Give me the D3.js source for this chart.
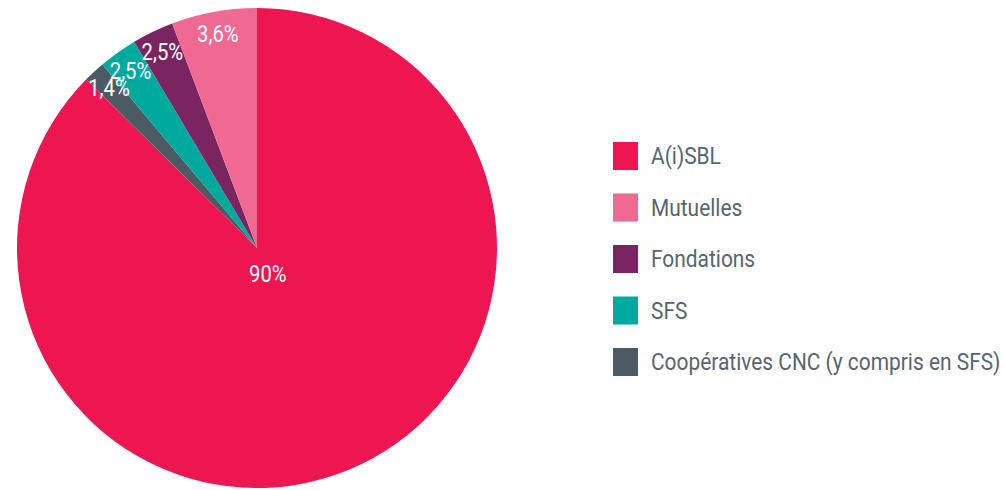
<!DOCTYPE html>
<html>
<head>
<meta charset="utf-8">
<script src="https://cdn.jsdelivr.net/npm/d3@7"></script>
<style>
  body { margin: 0; background: #fff; }
  text { font-family: Roboto, "Noto Sans", sans-serif; }
</style>
</head>
<body>
<script>
// slices in clockwise order from 12 o'clock
var categories = ['A(i)SBL', 'Coopératives CNC (y compris en SFS)', 'SFS', 'Fondations', 'Mutuelles']
// slice sizes as drawn in the picture (the printed labels do not match the angles exactly)
var shares = [87.4, 1.45, 2.6, 2.8, 5.75]
var labels = ['90%', '1,4%', '2,5%', '2,5%', '3,6%']
var colors = ['#ee1651', '#4b5a63', '#00a99d', '#7b2462', '#f06993']
// legend order as in the picture
var legend_order = ['A(i)SBL', 'Mutuelles', 'Fondations', 'SFS', 'Coopératives CNC (y compris en SFS)']

var width = 1003, height = 490
var cx = 257, cy = 248, radius = 240

var svg = d3.select('body').append('svg').attr('width', width).attr('height', height)

var data = categories.map((c, i) => ({name: c, value: shares[i], label: labels[i], color: colors[i]}))

var pie = d3.pie().sort(null).value(d => d.value)
var arc = d3.arc().innerRadius(0).outerRadius(radius)
var arcs = pie(data)

var g = svg.append('g').attr('transform', 'translate(' + cx + ',' + cy + ')')

g.selectAll('path').data(arcs).enter().append('path')
  .attr('d', arc)
  .attr('fill', d => d.data.color)

// labels: the big slice near the centre, the small ones near the rim
var innerLabel = d3.arc().innerRadius(28).outerRadius(28)
var rimLabel = d3.arc().innerRadius(218).outerRadius(218)

g.selectAll('text.lbl').data(arcs).enter().append('text')
  .attr('class', 'lbl')
  .attr('transform', d => {
    var p = d.data.value > 50 ? innerLabel.centroid(d) : rimLabel.centroid(d)
    return 'translate(' + p[0] + ',' + p[1] + ') scale(0.88,1)'
  })
  .attr('text-anchor', 'middle')
  .attr('dy', '0.36em')
  .attr('fill', '#fff')
  .style('font-size', '23px')
  .text(d => d.data.label)

// legend
var legY = d3.scalePoint().domain(legend_order).range([156, 362])
var colorOf = {}
categories.forEach((c, i) => { colorOf[c] = colors[i] })

var leg = svg.append('g')
var items = leg.selectAll('g').data(legend_order).enter().append('g')
  .attr('transform', d => 'translate(613,' + legY(d) + ')')

items.append('rect')
  .attr('x', 0).attr('y', -14)
  .attr('width', 25).attr('height', 28)
  .attr('fill', d => colorOf[d])

items.append('text')
  .attr('transform', 'translate(38,0) scale(0.89,1)')
  .attr('dy', '0.36em')
  .attr('fill', '#56656e')
  .style('font-size', '23.5px')
  .text(d => d)
</script>
</body>
</html>
